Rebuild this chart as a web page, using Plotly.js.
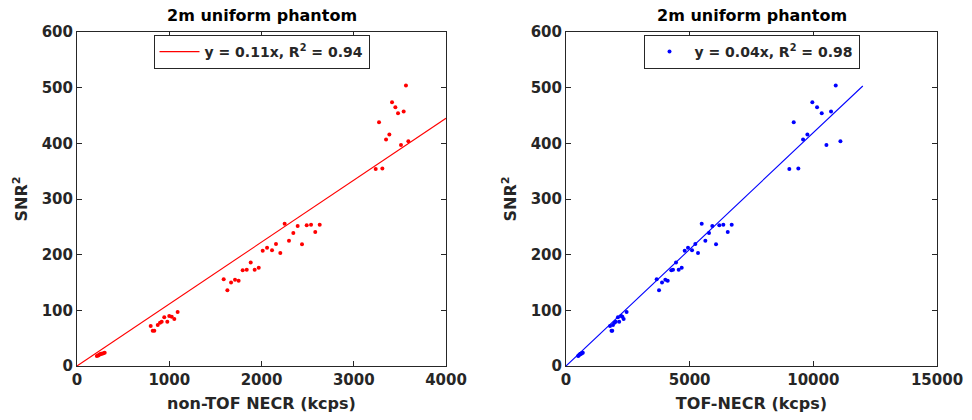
<!DOCTYPE html>
<html>
<head>
<meta charset="utf-8">
<script src="https://cdn.plot.ly/plotly-3.0.1.min.js"></script>
<style>html,body{margin:0;padding:0;background:#fff;}#chart{width:972px;height:420px;}</style>
</head>
<body>
<div id="chart"></div>
<script>
// SNR^2 values (shared by both panels)
const snr2 = [
  18, 19, 20, 21, 22, 22, 23, 24,
  71.9, 63.4, 63.4, 73.6, 77.8, 79.6, 87.5, 79.6, 89.8, 88.6, 84.4, 97,
  155.7, 136, 150, 155, 153, 172, 173, 186, 173, 176.6, 207, 212.5, 208, 219, 203, 255.6, 225, 239, 251.5, 218.6, 252.7, 253.8, 240.7, 253.8,
  504, 473.7, 465, 454, 457, 437.7, 416, 407, 397, 403.6, 354, 355
];
// non-TOF NECR (kcps)
const nonTofNecr = [
  215, 230, 240, 250, 260, 270, 285, 300,
  799, 821, 838, 875, 900, 918, 946, 979, 1000, 1027, 1055, 1091,
  1590, 1630, 1670, 1713, 1752, 1796, 1840, 1883, 1926, 1970, 2013, 2060, 2114, 2157, 2204, 2251, 2298, 2345, 2392, 2439, 2490, 2537, 2583, 2631,
  3566, 3415, 3451, 3480, 3541, 3274, 3386, 3350, 3512, 3592, 3238, 3310
];
// TOF-NECR (kcps)
const tofNecr = [
  490, 510, 540, 560, 590, 610, 640, 680,
  1780, 1840, 1870, 1900, 1960, 2010, 2100, 2150, 2230, 2280, 2330, 2450,
  3666, 3761, 3882, 4016, 4112, 4258, 4327, 4448, 4556, 4678, 4799, 4933, 5095, 5229, 5338, 5487, 5634, 5783, 5916, 6066, 6199, 6361, 6539, 6700,
  10906, 9960, 10150, 10340, 10716, 9207, 9760, 9586, 10529, 11095, 9030, 9394
];
// Fit lines (end points)
const fitNonTofX = [0, 4000];
const fitNonTofY = [0, 445];
const fitTofX = [0, 12000];
const fitTofY = [0, 503];

// Tick values / labels
const yTicks = [0, 100, 200, 300, 400, 500, 600];
const x1Ticks = [0, 1000, 2000, 3000, 4000];
const x2Ticks = [0, 5000, 10000, 15000];
const x2TickText = ['0', '5000', '10000', '15000'];

const legendLeft = 'y = 0.11x, R<sup>2</sup> = 0.94';
const legendRight = 'y = 0.04x, R<sup>2</sup> = 0.98';
const panelTitle = '2m uniform phantom';

const FONT = 'DejaVu Sans, Arial, sans-serif';
const DARK = '#262626';

const traces = [
  {x: nonTofNecr, y: snr2, type: 'scatter', mode: 'markers', xaxis: 'x', yaxis: 'y',
   marker: {color: '#ff0000', size: 4}, showlegend: false, hoverinfo: 'x+y'},
  {x: fitNonTofX, y: fitNonTofY, type: 'scatter', mode: 'lines', xaxis: 'x', yaxis: 'y',
   line: {color: '#ff0000', width: 1.1}, name: legendLeft, legend: 'legend'},
  {x: tofNecr, y: snr2, type: 'scatter', mode: 'markers', xaxis: 'x2', yaxis: 'y2',
   marker: {color: '#0000ff', size: 4}, name: legendRight, legend: 'legend2'},
  {x: fitTofX, y: fitTofY, type: 'scatter', mode: 'lines', xaxis: 'x2', yaxis: 'y2',
   line: {color: '#0000ff', width: 1.1}, showlegend: false}
];

function axisBase() {
  return {
    showline: true, linecolor: DARK, linewidth: 1, mirror: 'ticks',
    ticks: 'inside', ticklen: 5, tickcolor: DARK, tickwidth: 1,
    showgrid: false, zeroline: false,
    tickfont: {family: FONT, size: 15, color: DARK, weight: 'bold'}
  };
}
const titleFont = {family: FONT, size: 16, color: DARK, weight: 'bold'};

const xd1 = [0, 369 / 860];
const xd2 = [489 / 860, 1];

const layout = {
  width: 972, height: 420,
  margin: {l: 77, r: 35, t: 32, b: 54},
  paper_bgcolor: '#ffffff', plot_bgcolor: '#ffffff',
  font: {family: FONT, color: DARK},
  xaxis: Object.assign(axisBase(), {domain: xd1, range: [0, 4000], tickvals: x1Ticks,
    title: {text: 'non-TOF NECR (kcps)', font: titleFont, standoff: 9}, anchor: 'y'}),
  yaxis: Object.assign(axisBase(), {domain: [0, 1], range: [0, 600], tickvals: yTicks,
    title: {text: 'SNR<sup>2</sup>', font: titleFont, standoff: 10}, anchor: 'x'}),
  xaxis2: Object.assign(axisBase(), {domain: xd2, range: [0, 15000], tickvals: x2Ticks, ticktext: x2TickText,
    title: {text: 'TOF-NECR (kcps)', font: titleFont, standoff: 9}, anchor: 'y2'}),
  yaxis2: Object.assign(axisBase(), {domain: [0, 1], range: [0, 600], tickvals: yTicks,
    title: {text: 'SNR<sup>2</sup>', font: titleFont, standoff: 10}, anchor: 'x2'}),
  legend: {x: (xd1[0] + xd1[1]) / 2, xanchor: 'center', y: 0.991, yanchor: 'top',
    bgcolor: '#ffffff', bordercolor: DARK, borderwidth: 1,
    font: {family: FONT, size: 14, color: DARK, weight: 'bold'}, itemwidth: 40, tracegroupgap: 0},
  legend2: {x: (xd2[0] + xd2[1]) / 2, xanchor: 'center', y: 0.991, yanchor: 'top',
    bgcolor: '#ffffff', bordercolor: DARK, borderwidth: 1,
    font: {family: FONT, size: 14, color: DARK, weight: 'bold'}, itemwidth: 40, tracegroupgap: 0},
  annotations: [
    {text: panelTitle, xref: 'paper', yref: 'paper', x: (xd1[0] + xd1[1]) / 2, y: 1, xanchor: 'center', yanchor: 'bottom', yshift: 5,
     showarrow: false, font: {family: FONT, size: 16, color: '#000000', weight: 'bold'}},
    {text: panelTitle, xref: 'paper', yref: 'paper', x: (xd2[0] + xd2[1]) / 2, y: 1, xanchor: 'center', yanchor: 'bottom', yshift: 5,
     showarrow: false, font: {family: FONT, size: 16, color: '#000000', weight: 'bold'}}
  ],
  showlegend: true
};

Plotly.newPlot('chart', traces, layout, {displayModeBar: false, staticPlot: true});
</script>
</body>
</html>
